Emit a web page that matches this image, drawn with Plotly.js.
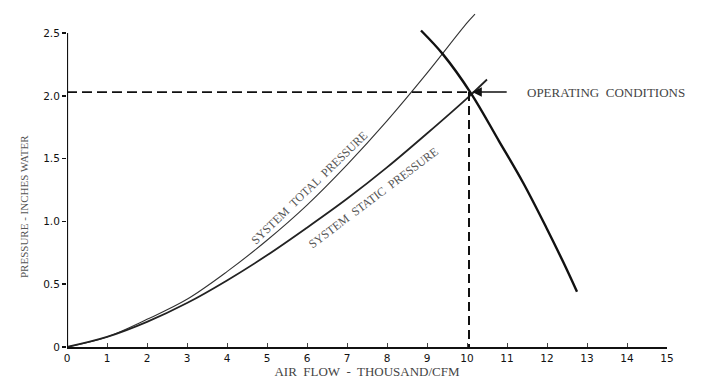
<!DOCTYPE html>
<html>
<head>
<meta charset="utf-8">
<script src="https://cdn.plot.ly/plotly-3.0.1.min.js"></script>
<style>html,body{margin:0;padding:0;background:#fff;}#chart{width:702px;height:387px;}</style>
</head>
<body>
<div id="chart"></div>
<script>
// Air flow (thousand CFM) and pressures (inches water)
const totalX   = [0, 1, 2, 3, 4, 5, 6, 7, 8, 9, 10, 10.2];
const totalY   = [0, 0.08, 0.22, 0.38, 0.60, 0.85, 1.13, 1.45, 1.80, 2.18, 2.58, 2.65];
const staticX  = [0, 1, 2, 3, 4, 5, 6, 7, 8, 9, 10, 10.5];
const staticY  = [0, 0.08, 0.20, 0.35, 0.53, 0.73, 0.95, 1.18, 1.43, 1.70, 1.98, 2.13];
const fanX     = [8.85, 9.4, 10.1, 10.8, 11.4, 12.0, 12.4, 12.75];
const fanY     = [2.52, 2.33, 2.02, 1.64, 1.31, 0.94, 0.68, 0.44];
const opX = 10.05;
const opY = 2.03;
const xTicks = [0,1,2,3,4,5,6,7,8,9,10,11,12,13,14,15];
const xTickText = ['0','1','2','3','4','5','6','7','8','9','10','11','12','13','14','15'];
const yTicks = [0, 0.5, 1.0, 1.5, 2.0, 2.5];
const yTickText = ['0','0.5','1.0','1.5','2.0','2.5'];
const yAxisTop = 2.5;

const serif = 'Liberation Serif, Times New Roman, serif';

const traces = [
  {x: totalX, y: totalY, mode: 'lines', line: {color: '#333', width: 1.1, shape: 'spline'}, hoverinfo: 'skip'},
  {x: staticX, y: staticY, mode: 'lines', line: {color: '#222', width: 1.8, shape: 'spline'}, hoverinfo: 'skip'},
  {x: fanX, y: fanY, mode: 'lines', line: {color: '#111', width: 2.4, shape: 'spline'}, hoverinfo: 'skip'},
  {x: [0, opX], y: [opY, opY], mode: 'lines', line: {color: '#111', width: 1.8, dash: '10px,5px'}, hoverinfo: 'skip'},
  {x: [opX, opX], y: [opY, 0], mode: 'lines', line: {color: '#111', width: 2, dash: '9px,5px'}, hoverinfo: 'skip'},
  {x: [0, 0], y: [0, yAxisTop], mode: 'lines', line: {color: '#111', width: 2.2}, hoverinfo: 'skip'}
];

const layout = {
  width: 702, height: 387,
  margin: {l: 67, r: 35, t: 0, b: 40},
  paper_bgcolor: '#fff', plot_bgcolor: '#fff',
  showlegend: false,
  xaxis: {
    range: [0, 15], tickvals: xTicks, ticktext: xTickText,
    showgrid: false, zeroline: false, showline: true, linecolor: '#111', linewidth: 2,
    ticks: 'inside', ticklen: 4, tickcolor: '#444', tickwidth: 1,
    tickfont: {family: 'DejaVu Sans, Arial, sans-serif', size: 10.5, color: '#111'},
    title: {text: 'AIR  FLOW  -  THOUSAND/CFM', font: {family: serif, size: 13, color: '#444'}, standoff: 3}
  },
  yaxis: {
    range: [0, 2.763], tickvals: yTicks, ticktext: yTickText,
    showgrid: false, zeroline: false, showline: false,
    ticks: 'outside', ticklen: 4, tickcolor: '#111', tickwidth: 1.5,
    tickfont: {family: 'DejaVu Sans, Arial, sans-serif', size: 10.5, color: '#111'},
    title: {text: ''}
  },
  annotations: [
    {x: 16, y: 207, xref: 'paper', yref: 'paper', text: 'PRESSURE - INCHES WATER', showarrow: false, textangle: -90,
     font: {family: serif, size: 11, color: '#555'}},
    {x: 6.05, y: 1.27, xref: 'x', yref: 'y', text: 'SYSTEM  TOTAL  PRESSURE', showarrow: false, textangle: -44,
     font: {family: serif, size: 12, color: '#555'}},
    {x: 7.65, y: 1.19, xref: 'x', yref: 'y', text: 'SYSTEM  STATIC  PRESSURE', showarrow: false, textangle: -37,
     font: {family: serif, size: 12, color: '#555'}},
    {x: opX + 0.08, y: opY, xref: 'x', yref: 'y', ax: 36, ay: 0, text: '', showarrow: true,
     arrowhead: 2, arrowsize: 1.2, arrowwidth: 1.6, arrowcolor: '#111'},
    {x: opX + 1.4, y: opY, xref: 'x', yref: 'y', xanchor: 'left', text: 'OPERATING  CONDITIONS', showarrow: false,
     font: {family: serif, size: 13, color: '#444'}}
  ]
};
// paper coords for the y-axis title annotation (pixel position converted)
const plotH = layout.height - layout.margin.t - layout.margin.b;
const plotW = layout.width - layout.margin.l - layout.margin.r;
layout.annotations[0].x = (16 - layout.margin.l) / plotW;
layout.annotations[0].y = (layout.height - layout.margin.b - 207) / plotH;

Plotly.newPlot('chart', traces, layout, {staticPlot: true, displayModeBar: false});
</script>
</body>
</html>
